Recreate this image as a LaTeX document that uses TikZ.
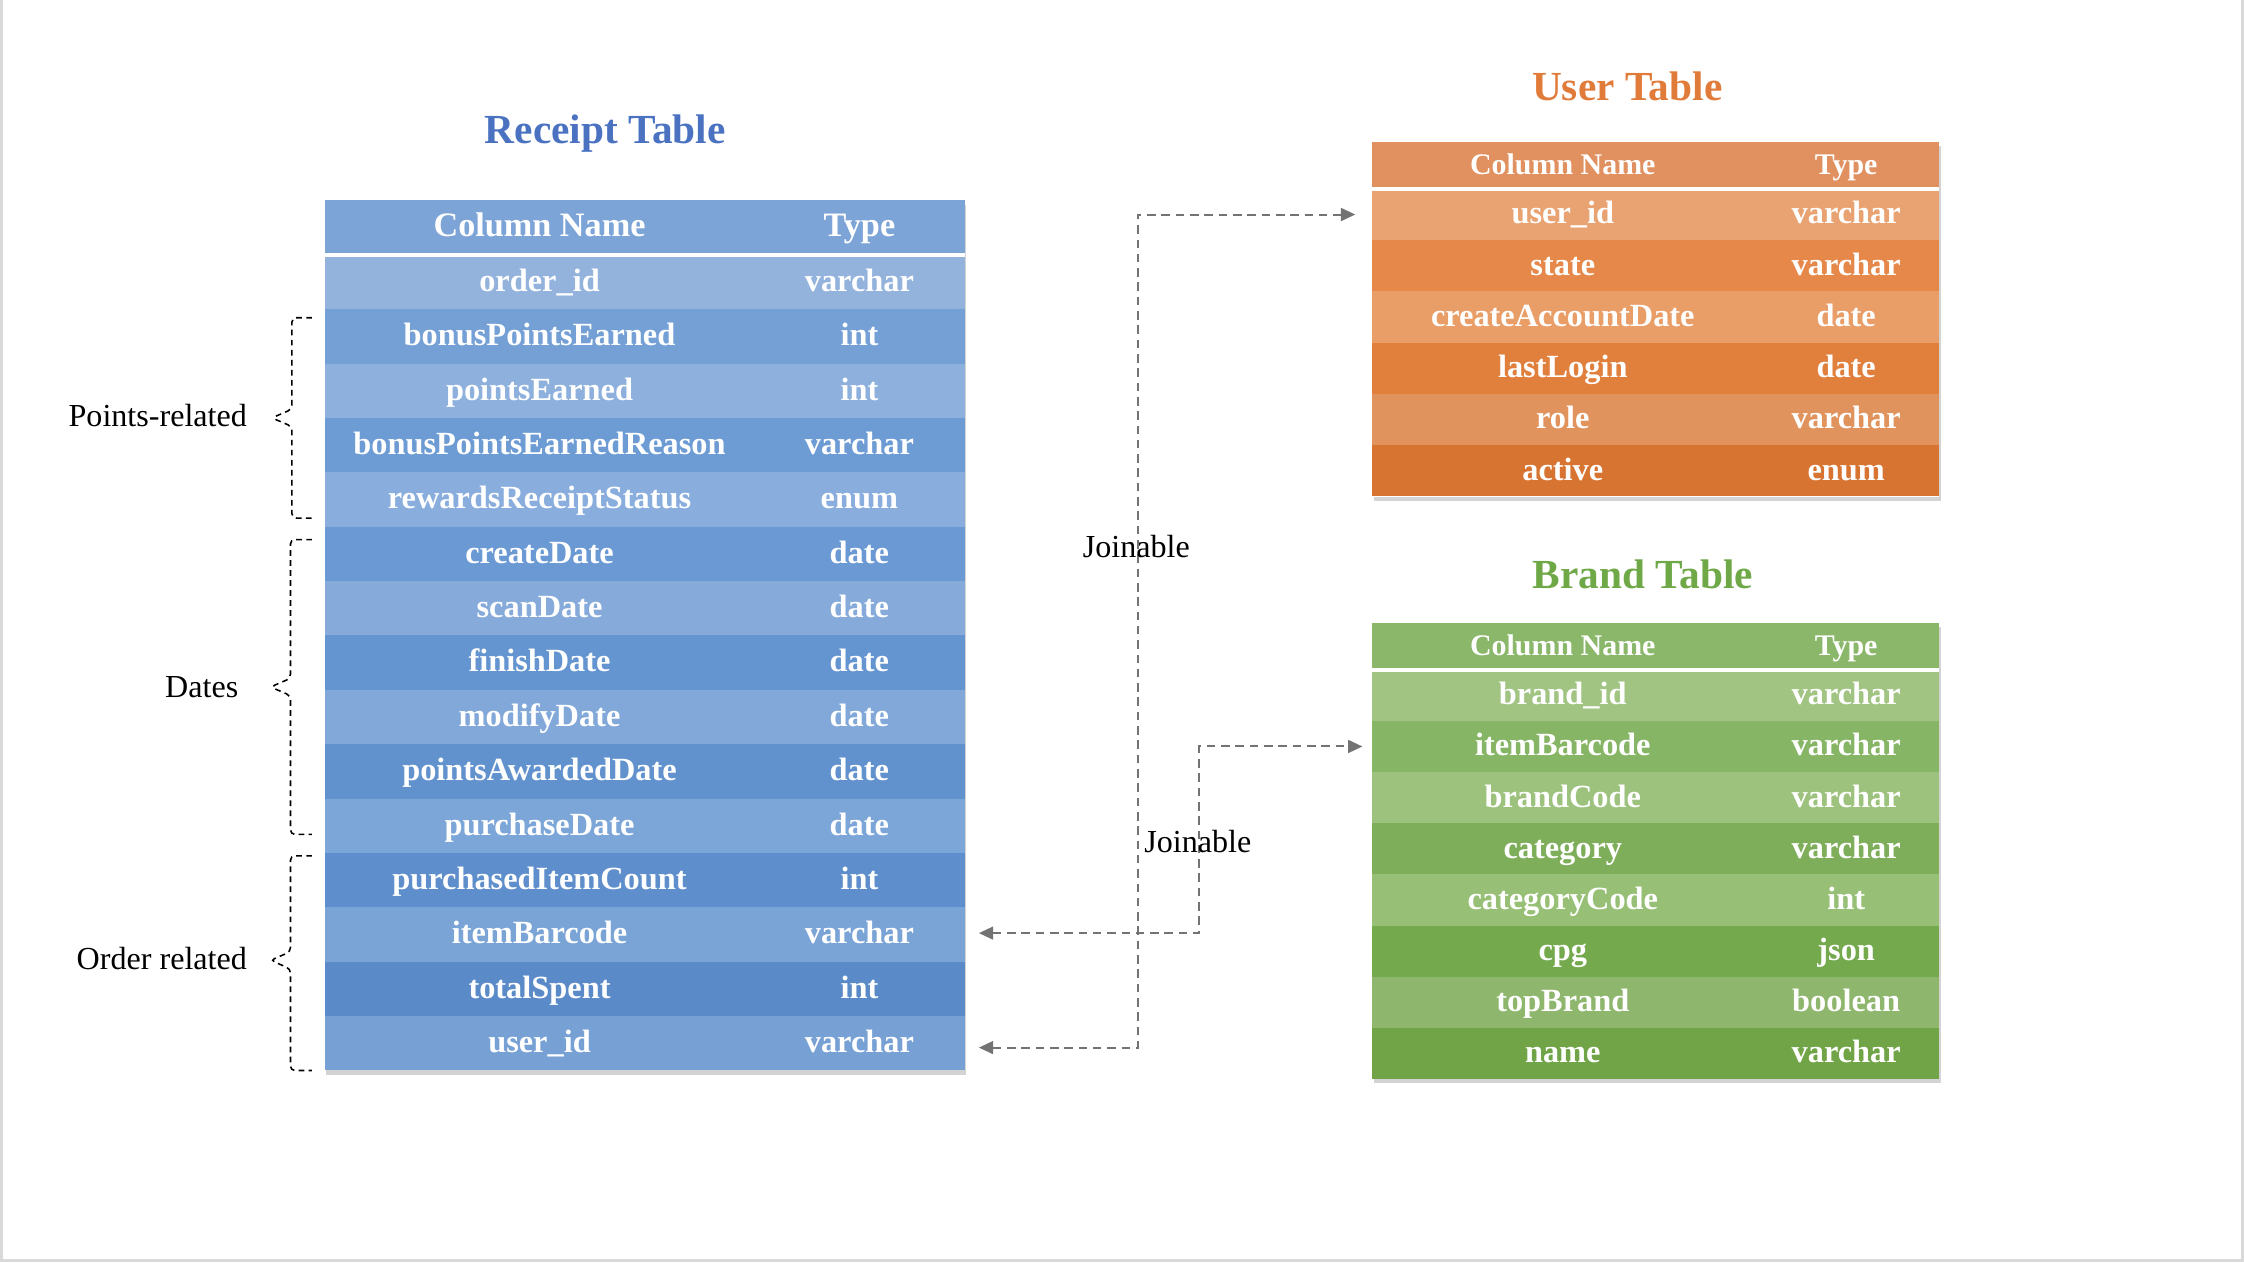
\documentclass[tikz,border=0pt]{standalone}
\usepackage{fontspec}
\setmainfont{Liberation Serif}
\usepackage{tikz}
\usetikzlibrary{arrows.meta,shadows}

\definecolor{rblue}{HTML}{4A72C0}
\definecolor{uorange}{HTML}{E07B39}
\definecolor{bgreen}{HTML}{6FA847}
\definecolor{rH}{HTML}{7DA4D7}
\definecolor{rA}{HTML}{93B3DD}
\definecolor{rB}{HTML}{74A0D6}
\definecolor{rC}{HTML}{8DB0DD}
\definecolor{rD}{HTML}{6D9BD4}
\definecolor{rE}{HTML}{89ADDC}
\definecolor{rF}{HTML}{6A99D3}
\definecolor{rG}{HTML}{86ABDB}
\definecolor{rI}{HTML}{6595D0}
\definecolor{rJ}{HTML}{81A8D9}
\definecolor{rK}{HTML}{6292CD}
\definecolor{rL}{HTML}{7CA5D8}
\definecolor{rM}{HTML}{5E8ECB}
\definecolor{rN}{HTML}{7AA3D6}
\definecolor{rO}{HTML}{5A8AC8}
\definecolor{rP}{HTML}{77A0D4}
\definecolor{uH}{HTML}{E1905F}
\definecolor{uA}{HTML}{E9A271}
\definecolor{uB}{HTML}{E5884A}
\definecolor{uC}{HTML}{E99D67}
\definecolor{uD}{HTML}{E17F3D}
\definecolor{uE}{HTML}{E0935D}
\definecolor{uF}{HTML}{D87431}
\definecolor{bH}{HTML}{8BB76B}
\definecolor{bA}{HTML}{A1C483}
\definecolor{bB}{HTML}{87B566}
\definecolor{bC}{HTML}{9DC27D}
\definecolor{bD}{HTML}{7FAE5B}
\definecolor{bE}{HTML}{97C076}
\definecolor{bF}{HTML}{75A94E}
\definecolor{bG}{HTML}{8FB66D}
\definecolor{bI}{HTML}{70A447}

\begin{document}
\begin{tikzpicture}[
  cell/.style={inner sep=0pt,outer sep=0pt,text=white,text height=16bp,text depth=3bp,font=\fontsize{22.7}{26}\selectfont\bfseries},
  rname/.style={cell,minimum width=300bp,minimum height=38bp},
  rtype/.style={cell,minimum width=147bp,minimum height=38bp},
  uname/.style={cell,minimum width=266bp,minimum height=35.8bp},
  utype/.style={cell,minimum width=130bp,minimum height=35.8bp},
  title/.style={font=\fontsize{29}{33}\selectfont\bfseries},
  lbl/.style={font=\fontsize{22.5}{26}\selectfont},
  joinline/.style={draw=black!55,line width=1.4bp,dash pattern=on 6bp off 4bp,{Triangle[length=10bp,width=9bp]}-{Triangle[length=10bp,width=9bp]}},
  bracket/.style={draw=black,line width=1.1bp,dash pattern=on 4bp off 3bp,rounded corners=3bp}]

\useasboundingbox (0bp,0bp) rectangle (1568bp,-882bp);
\draw[black!15,line width=2bp] (1bp,0bp) -- (1bp,-881bp) -- (1567bp,-881bp) -- (1567bp,0bp);

% titles
\node (rtitle) at (423bp,-93bp)[title,text=rblue] {Receipt Table};
\node (utitle) at (1137bp,-60bp)[title,text=uorange] {User Table};
\node (btitle) at (1148bp,-401bp)[title,text=bgreen] {Brand Table};

% table shadows
\fill[white,drop shadow={shadow xshift=1bp,shadow yshift=-3bp,opacity=0.35}] (227bp,-140bp) rectangle (674bp,-748bp);
\fill[white,drop shadow={shadow xshift=1bp,shadow yshift=-3bp,opacity=0.35}] (959bp,-99bp) rectangle (1355bp,-347bp);
\fill[white,drop shadow={shadow xshift=1bp,shadow yshift=-3bp,opacity=0.35}] (959bp,-435bp) rectangle (1355bp,-754bp);

% receipt table
\node (rhn) at (377bp,-159bp)[rname,fill=rH,font=\fontsize{24}{28}\selectfont\bfseries] {Column Name};
\node (rht) at (600.5bp,-159bp)[rtype,fill=rH,font=\fontsize{24}{28}\selectfont\bfseries] {Type};
\node (r1n) at (377bp,-197bp)[rname,fill=rA] {order\_id};
\node (r1t) at (600.5bp,-197bp)[rtype,fill=rA] {varchar};
\node (r2n) at (377bp,-235bp)[rname,fill=rB] {bonusPointsEarned};
\node (r2t) at (600.5bp,-235bp)[rtype,fill=rB] {int};
\node (r3n) at (377bp,-273bp)[rname,fill=rC] {pointsEarned};
\node (r3t) at (600.5bp,-273bp)[rtype,fill=rC] {int};
\node (r4n) at (377bp,-311bp)[rname,fill=rD] {bonusPointsEarnedReason};
\node (r4t) at (600.5bp,-311bp)[rtype,fill=rD] {varchar};
\node (r5n) at (377bp,-349bp)[rname,fill=rE] {rewardsReceiptStatus};
\node (r5t) at (600.5bp,-349bp)[rtype,fill=rE] {enum};
\node (r6n) at (377bp,-387bp)[rname,fill=rF] {createDate};
\node (r6t) at (600.5bp,-387bp)[rtype,fill=rF] {date};
\node (r7n) at (377bp,-425bp)[rname,fill=rG] {scanDate};
\node (r7t) at (600.5bp,-425bp)[rtype,fill=rG] {date};
\node (r8n) at (377bp,-463bp)[rname,fill=rI] {finishDate};
\node (r8t) at (600.5bp,-463bp)[rtype,fill=rI] {date};
\node (r9n) at (377bp,-501bp)[rname,fill=rJ] {modifyDate};
\node (r9t) at (600.5bp,-501bp)[rtype,fill=rJ] {date};
\node (r10n) at (377bp,-539bp)[rname,fill=rK] {pointsAwardedDate};
\node (r10t) at (600.5bp,-539bp)[rtype,fill=rK] {date};
\node (r11n) at (377bp,-577bp)[rname,fill=rL] {purchaseDate};
\node (r11t) at (600.5bp,-577bp)[rtype,fill=rL] {date};
\node (r12n) at (377bp,-615bp)[rname,fill=rM] {purchasedItemCount};
\node (r12t) at (600.5bp,-615bp)[rtype,fill=rM] {int};
\node (r13n) at (377bp,-653bp)[rname,fill=rN] {itemBarcode};
\node (r13t) at (600.5bp,-653bp)[rtype,fill=rN] {varchar};
\node (r14n) at (377bp,-691bp)[rname,fill=rO] {totalSpent};
\node (r14t) at (600.5bp,-691bp)[rtype,fill=rO] {int};
\node (r15n) at (377bp,-729bp)[rname,fill=rP] {user\_id};
\node (r15t) at (600.5bp,-729bp)[rtype,fill=rP] {varchar};
\draw[white,line width=2.5bp] (rhn.south west) -- (rht.south east);

% user table
\node (uhn) at (1092bp,-115.5bp)[uname,minimum height=33bp,fill=uH,font=\fontsize{21}{25}\selectfont\bfseries] {Column Name};
\node (uht) at (1290bp,-115.5bp)[utype,minimum height=33bp,fill=uH,font=\fontsize{21}{25}\selectfont\bfseries] {Type};
\node (u1n) at (1092bp,-149.9bp)[uname,fill=uA] {user\_id};
\node (u1t) at (1290bp,-149.9bp)[utype,fill=uA] {varchar};
\node (u2n) at (1092bp,-185.7bp)[uname,fill=uB] {state};
\node (u2t) at (1290bp,-185.7bp)[utype,fill=uB] {varchar};
\node (u3n) at (1092bp,-221.5bp)[uname,fill=uC] {createAccountDate};
\node (u3t) at (1290bp,-221.5bp)[utype,fill=uC] {date};
\node (u4n) at (1092bp,-257.3bp)[uname,fill=uD] {lastLogin};
\node (u4t) at (1290bp,-257.3bp)[utype,fill=uD] {date};
\node (u5n) at (1092bp,-293.1bp)[uname,fill=uE] {role};
\node (u5t) at (1290bp,-293.1bp)[utype,fill=uE] {varchar};
\node (u6n) at (1092bp,-329bp)[uname,fill=uF] {active};
\node (u6t) at (1290bp,-329bp)[utype,fill=uF] {enum};
\draw[white,line width=2.5bp] (uhn.south west) -- (uht.south east);

% brand table
\node (bhn) at (1092bp,-451.5bp)[uname,minimum height=33bp,fill=bH,font=\fontsize{21}{25}\selectfont\bfseries] {Column Name};
\node (bht) at (1290bp,-451.5bp)[utype,minimum height=33bp,fill=bH,font=\fontsize{21}{25}\selectfont\bfseries] {Type};
\node (b1n) at (1092bp,-485.9bp)[uname,fill=bA] {brand\_id};
\node (b1t) at (1290bp,-485.9bp)[utype,fill=bA] {varchar};
\node (b2n) at (1092bp,-521.6bp)[uname,fill=bB] {itemBarcode};
\node (b2t) at (1290bp,-521.6bp)[utype,fill=bB] {varchar};
\node (b3n) at (1092bp,-557.4bp)[uname,fill=bC] {brandCode};
\node (b3t) at (1290bp,-557.4bp)[utype,fill=bC] {varchar};
\node (b4n) at (1092bp,-593.1bp)[uname,fill=bD] {category};
\node (b4t) at (1290bp,-593.1bp)[utype,fill=bD] {varchar};
\node (b5n) at (1092bp,-628.9bp)[uname,fill=bE] {categoryCode};
\node (b5t) at (1290bp,-628.9bp)[utype,fill=bE] {int};
\node (b6n) at (1092bp,-664.6bp)[uname,fill=bF] {cpg};
\node (b6t) at (1290bp,-664.6bp)[utype,fill=bF] {json};
\node (b7n) at (1092bp,-700.4bp)[uname,fill=bG] {topBrand};
\node (b7t) at (1290bp,-700.4bp)[utype,fill=bG] {boolean};
\node (b8n) at (1092bp,-736.1bp)[uname,fill=bI] {name};
\node (b8t) at (1290bp,-736.1bp)[utype,fill=bI] {varchar};
\draw[white,line width=2.5bp] (bhn.south west) -- (bht.south east);

% joins
\coordinate (j1) at (795bp,-149.9bp);
\coordinate (j2) at (838bp,-521.6bp);
\draw[joinline] ([xshift=10bp,yshift=-3bp]r15t.east) -| (j1) -- ([xshift=-12bp]u1n.west);
\draw[joinline] ([xshift=10bp,yshift=1bp]r13t.east) -| (j2) -- ([xshift=-7bp]b2n.west);
\node (jl1) at (794bp,-382bp)[lbl] {Joinable};
\node (jl2) at (837bp,-588bp)[lbl] {Joinable};

% groups
\node (gpts) at (176bp,-290bp)[lbl,anchor=east] {Points-related};
\node (gdat) at (170bp,-480bp)[lbl,anchor=east] {Dates};
\node (gord) at (176bp,-670bp)[lbl,anchor=east] {Order related};
\draw[bracket] (218bp,-222bp) -- (204bp,-222bp) -- (204bp,-286bp) -- (190bp,-292bp) -- (204bp,-298bp) -- (204bp,-362bp) -- (218bp,-362bp);
\draw[bracket] (218bp,-377bp) -- (203bp,-377bp) -- (203bp,-474bp) -- (189bp,-480bp) -- (203bp,-486bp) -- (203bp,-583bp) -- (218bp,-583bp);
\draw[bracket] (218bp,-598bp) -- (203bp,-598bp) -- (203bp,-665bp) -- (189bp,-671bp) -- (203bp,-677bp) -- (203bp,-748bp) -- (218bp,-748bp);
\end{tikzpicture}
\end{document}
